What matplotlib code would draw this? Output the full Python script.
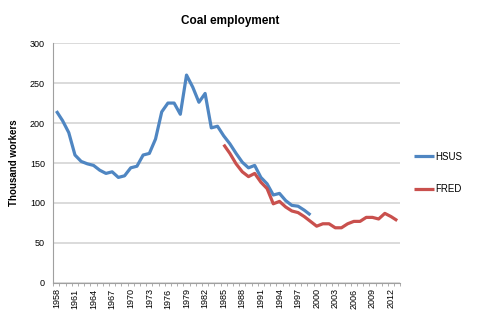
import numpy as np
import matplotlib
matplotlib.use("Agg")
import matplotlib.pyplot as plt

plt.rcParams["font.family"] = ["Liberation Sans", "DejaVu Sans"]

years = list(range(1958, 2014))
hsus_years = list(range(1958, 2000))
hsus = [215, 203, 188, 160, 152, 149, 147, 141, 137, 139, 132, 134, 144, 146,
        160, 162, 180, 214, 225, 225, 211, 260, 245, 226, 237, 194, 196, 184,
        174, 162, 151, 144, 147, 132, 124, 110, 112, 103, 97, 96, 91, 85]
fred_years = list(range(1985, 2014))
fred = [173, 162, 149, 139, 133, 137, 126, 118, 99, 102, 95, 90, 88, 83, 77,
        71, 74, 74, 69, 69, 74, 77, 77, 82, 82, 80, 87, 83, 78]

C_BLUE = "#4f86c2"
C_RED = "#c9504d"
C_GRID = "#d4d4d4"

fig = plt.figure(figsize=(4.8, 3.29), dpi=100)
ax = fig.add_axes([0.111, 0.140, 0.723, 0.729])

xh = [years.index(y) + 0.5 for y in hsus_years]
xf = [years.index(y) + 0.5 for y in fred_years]
ax.plot(xh, hsus, color=C_BLUE, lw=2.3, label="HSUS", solid_capstyle="butt")
ax.plot(xf, fred, color=C_RED, lw=2.3, label="FRED", solid_capstyle="butt")

ax.set_xlim(0, len(years))
ax.set_ylim(0, 300)
ax.set_yticks(range(0, 301, 50))
ax.yaxis.grid(True, color=C_GRID, lw=1.2)
ax.set_axisbelow(True)
ax.tick_params(axis="y", length=0, labelsize=6.5, pad=6)

lab_idx = list(range(0, len(years), 3))
ax.set_xticks([i + 0.5 for i in lab_idx])
ax.set_xticklabels([str(years[i]) for i in lab_idx], rotation=90)
ax.set_xticks(np.arange(0, len(years) + 1), minor=True)
ax.tick_params(axis="x", which="major", length=0, labelsize=6.5, pad=4)
ax.tick_params(axis="x", which="minor", length=2.5, color="#a0a0a0")

for s in ["top", "right"]:
    ax.spines[s].set_visible(False)
for s in ["left", "bottom"]:
    ax.spines[s].set_color("#a0a0a0")
    ax.spines[s].set_linewidth(0.8)

ax.set_ylabel("Thousand workers", fontsize=7, fontweight="bold", labelpad=8)
fig.text(0.48, 0.935, "Coal employment", fontsize=8.5, fontweight="bold",
         ha="center", va="center")

fig.legend(loc="center left", bbox_to_anchor=(0.845, 0.475), frameon=False,
           fontsize=7, handlelength=2.0, handletextpad=0.1, labelspacing=2.3)

fig.savefig("out.png", dpi=100)
